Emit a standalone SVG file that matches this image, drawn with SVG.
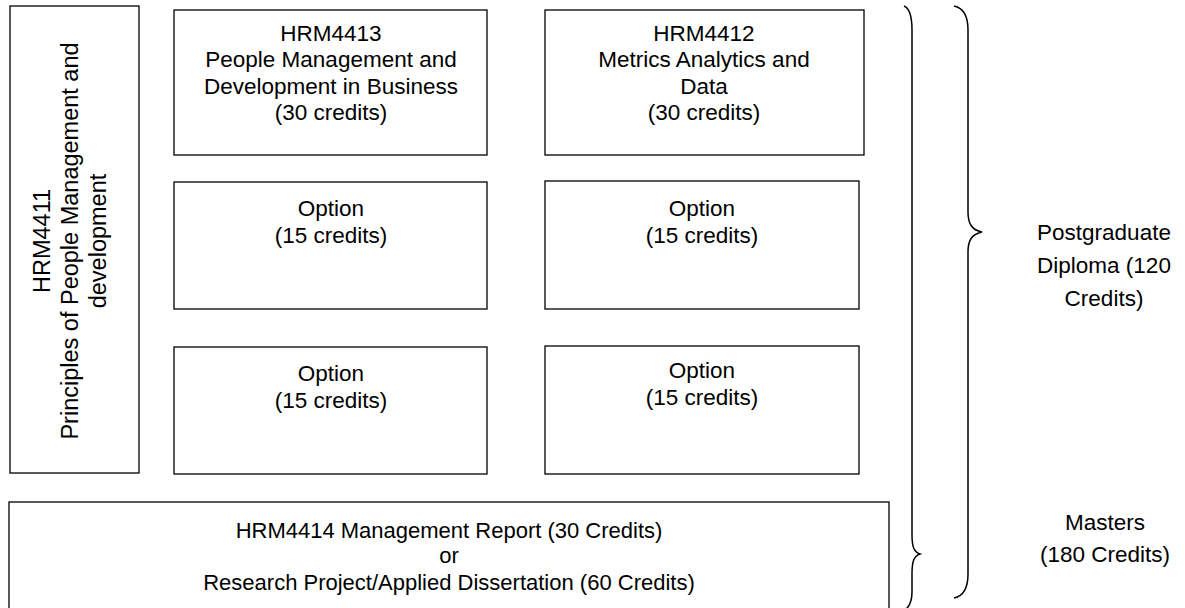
<svg xmlns="http://www.w3.org/2000/svg" width="1185" height="608" viewBox="0 0 1185 608">
<style>
.box{fill:#fff;stroke:#000;stroke-width:1.3}
.t{font-family:"Liberation Sans",Arial,sans-serif;font-size:22.5px;fill:#000;text-anchor:middle}
.br{fill:none;stroke:#000;stroke-width:1.5}
</style>
<rect x="0" y="0" width="1185" height="608" fill="#fff"/>
<g id="hrm4411">
<rect class="box" x="10" y="6" width="129" height="467"/>
<text class="t" style="font-size:23.5px" transform="translate(0,241) rotate(-90)"><tspan x="0" y="50">HRM4411</tspan><tspan x="0" y="78">Principles of People Management and</tspan><tspan x="0" y="106">development</tspan></text>
</g>
<g id="hrm4413">
<rect class="box" x="174" y="10" width="313" height="145"/>
<text class="t"><tspan x="331" y="41">HRM4413</tspan><tspan x="331" y="67">People Management and</tspan><tspan x="331" y="94">Development in Business</tspan><tspan x="331" y="120">(30 credits)</tspan></text>
</g>
<g id="hrm4412">
<rect class="box" x="545" y="10" width="319" height="145"/>
<text class="t"><tspan x="704" y="41">HRM4412</tspan><tspan x="704" y="67">Metrics Analytics and</tspan><tspan x="704" y="94">Data</tspan><tspan x="704" y="120">(30 credits)</tspan></text>
</g>
<g id="option1">
<rect class="box" x="174" y="182" width="313" height="127"/>
<text class="t"><tspan x="331" y="216">Option</tspan><tspan x="331" y="243">(15 credits)</tspan></text>
</g>
<g id="option2">
<rect class="box" x="545" y="181" width="314" height="128"/>
<text class="t"><tspan x="702" y="216">Option</tspan><tspan x="702" y="243">(15 credits)</tspan></text>
</g>
<g id="option3">
<rect class="box" x="174" y="347" width="313" height="127"/>
<text class="t"><tspan x="331" y="381">Option</tspan><tspan x="331" y="408">(15 credits)</tspan></text>
</g>
<g id="option4">
<rect class="box" x="545" y="346" width="314" height="128"/>
<text class="t"><tspan x="702" y="378">Option</tspan><tspan x="702" y="405">(15 credits)</tspan></text>
</g>
<g id="hrm4414">
<rect class="box" x="9" y="502" width="880" height="112"/>
<text class="t" style="font-size:22px"><tspan x="449" y="538">HRM4414 Management Report (30 Credits)</tspan><tspan x="449" y="563">or</tspan><tspan x="449" y="590">Research Project/Applied Dissertation (60 Credits)</tspan></text>
</g>
<g id="connectors">
<path class="br" d="M904,6 C909,8 912,16 912,30 L912,535 C912,547 914,552 920,554 C914,556 912,561 912,574 L912,592 C912,602 909,607 905,610"/>
<path class="br" d="M954,6 C964,8 968,16 968,30 L968,212 C968,224 972,230 982,232 C972,234 968,240 968,252 L968,574 C968,588 964,596 954,598"/>
</g>
<g id="pgdip">
<text class="t"><tspan x="1104" y="240">Postgraduate</tspan><tspan x="1104" y="273">Diploma (120</tspan><tspan x="1104" y="306">Credits)</tspan></text>
</g>
<g id="masters">
<text class="t"><tspan x="1105" y="530">Masters</tspan><tspan x="1105" y="562">(180 Credits)</tspan></text>
</g>
</svg>
